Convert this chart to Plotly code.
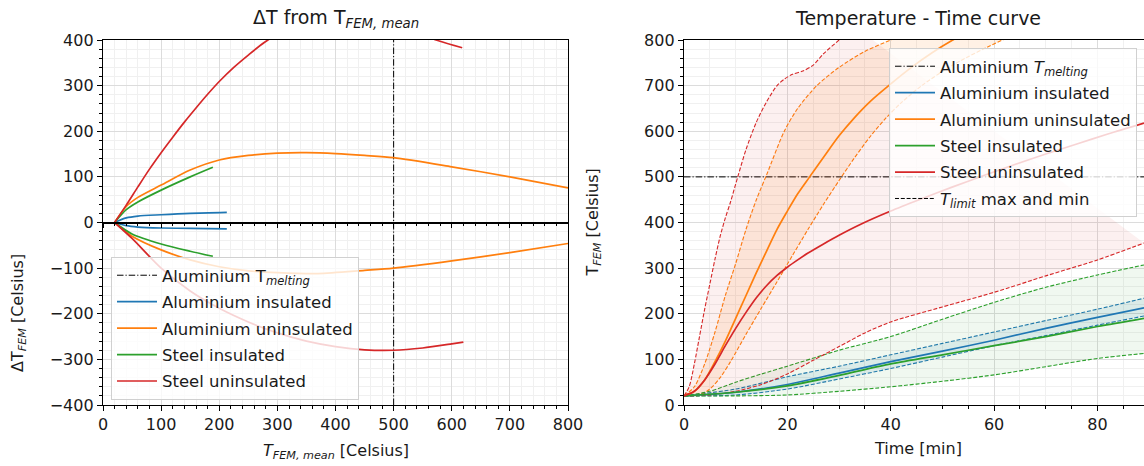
import plotly.graph_objects as go

# ---------------- data ----------------
ALU_MELT = 500  # aluminium melting temperature [Celsius]

# Left panel: deviation from mean FEM temperature (upper / lower envelope)
alu_ins_T_up = [20, 40, 60, 100, 150, 213]
alu_ins_dT_up = [0, 10, 14, 17, 20, 22]
alu_ins_T_lo = [20, 40, 60, 100, 150, 213]
alu_ins_dT_lo = [0, -7, -10, -12, -13, -14]

alu_unins_T_up = [20, 40, 60, 100, 150, 200, 250, 300, 350, 400, 450, 500, 600, 700, 800]
alu_unins_dT_up = [0, 35, 55, 82, 115, 137, 147, 152, 153, 151, 147, 142, 122, 100, 76]
alu_unins_T_lo = [20, 50, 100, 150, 200, 250, 300, 370, 450, 500, 600, 700, 800]
alu_unins_dT_lo = [0, -30, -60, -82, -97, -106, -110, -112, -105, -100, -84, -66, -46]

st_ins_T_up = [20, 40, 60, 100, 150, 189]
st_ins_dT_up = [0, 28, 45, 71, 100, 121]
st_ins_T_lo = [20, 50, 100, 150, 189]
st_ins_dT_lo = [0, -25, -47, -63, -74]

st_unins_T_up = [20, 40, 60, 80, 100, 120, 140, 160, 180, 200, 225, 250, 278, 310, 350, 400,
                 450, 500, 540, 573, 618]
st_unins_dT_up = [0, 38, 78, 117, 153, 187, 220, 251, 281, 309, 340, 367, 395, 420, 440, 452,
                  450, 437, 418, 400, 383]
st_unins_T_lo = [20, 50, 100, 150, 200, 250, 300, 350, 400, 450, 500, 550, 600, 620]
st_unins_dT_lo = [0, -35, -100, -150, -188, -218, -242, -260, -272, -279, -280, -275, -266, -262]

# Right panel: temperature-time curves, time [min], temperature [Celsius]
alu_ins_t = [0, 10, 20, 30, 40, 50, 60, 70, 80, 89]
alu_ins_T = [20, 28, 45, 70, 95, 118, 142, 168, 192, 213]
alu_ins_max = [20, 35, 62, 85, 110, 135, 160, 185, 210, 234]
alu_ins_min = [20, 22, 35, 57, 80, 105, 130, 152, 175, 195]

alu_unins_t = [0, 2, 4, 6, 8, 10, 12, 14, 16, 18, 20, 22, 24.3, 27, 30, 33, 36, 39.6, 44, 48, 52, 58]
alu_unins_T = [20, 30, 55, 95, 140, 190, 240, 290, 338, 385, 425, 463, 500, 543, 590, 630, 665,
               700, 740, 772, 800, 835]
alu_unins_max_t = [0, 2, 4, 6, 8, 10, 12, 14, 16, 19.4, 22, 25.7, 30, 35, 40, 45]
alu_unins_max = [20, 40, 90, 160, 240, 310, 385, 450, 505, 600, 650, 700, 740, 775, 800, 825]
alu_unins_min_t = [0, 3, 5, 7, 9, 12, 15, 18, 21, 24, 27, 30, 33, 36, 39, 42, 46, 52, 61.6, 70]
alu_unins_min = [20, 22, 35, 60, 95, 155, 213, 270, 328, 385, 440, 492, 542, 588, 628, 662,
                 700, 745, 800, 838]

st_ins_t = [0, 10, 20, 30, 40, 50, 60, 70, 80, 89]
st_ins_T = [20, 28, 42, 65, 90, 110, 130, 150, 172, 190]
st_ins_max_t = [0, 5, 10, 15, 20, 30, 40, 50, 60, 70, 80, 89]
st_ins_max = [20, 30, 50, 68, 85, 120, 150, 188, 225, 258, 285, 307]
st_ins_min_t = [0, 10, 20, 30, 40, 50, 60, 70, 80, 89]
st_ins_min = [20, 20, 22, 30, 40, 52, 66, 84, 102, 113]

st_unins_t = [0, 2, 4, 6, 8, 10, 12, 14, 16, 18, 20, 22, 24, 27, 30, 34, 40, 46, 52, 58, 64,
              70, 76, 82, 89]
st_unins_T = [20, 30, 55, 90, 130, 168, 203, 235, 262, 284, 302, 318, 333, 353, 372, 395, 425,
              452, 478, 503, 527, 550, 572, 594, 618]
st_unins_max_t = [0, 1, 2, 3, 4, 5, 6, 7, 8, 9, 10.4, 12, 14, 16, 18, 19.5, 21, 23, 25, 27, 30, 33]
st_unins_max = [20, 40, 90, 150, 210, 265, 320, 370, 410, 445, 500, 560, 620, 665, 700, 715, 725,
                732, 745, 770, 800, 830]
st_unins_min_t = [0, 5, 10, 15, 20, 25, 30, 35, 40, 50, 60, 70, 80, 89]
st_unins_min = [20, 22, 30, 45, 68, 98, 128, 158, 182, 215, 247, 283, 318, 355]

# ---------------- styling ----------------
C_BLUE, C_ORANGE, C_GREEN, C_RED = "#1f77b4", "#ff7f0e", "#2ca02c", "#d62728"
FILL = {
    C_BLUE: "rgba(31,119,180,0.10)",
    C_ORANGE: "rgba(255,127,14,0.11)",
    C_GREEN: "rgba(44,160,44,0.07)",
    C_RED: "rgba(214,39,40,0.07)",
}
TXT = "#1a1a1a"
FONT = "DejaVu Sans"
DASH = "4px,1.8px"
DASHDOT = "6.5px,2px,1.2px,2px"
LW = 1.7

W, H = 1144, 466
LX0, LX1 = 103 / W, 568 / W
RX0, RX1 = 684 / W, 1.0
Y0, Y1 = 1 - 405 / H, 1 - 40 / H

fig = go.Figure()

# ---- left panel ----
left_series = [
    ("Aluminium insulated", C_BLUE, alu_ins_T_up, alu_ins_dT_up, alu_ins_T_lo, alu_ins_dT_lo),
    ("Aluminium uninsulated", C_ORANGE, alu_unins_T_up, alu_unins_dT_up, alu_unins_T_lo, alu_unins_dT_lo),
    ("Steel insulated", C_GREEN, st_ins_T_up, st_ins_dT_up, st_ins_T_lo, st_ins_dT_lo),
    ("Steel uninsulated", C_RED, st_unins_T_up, st_unins_dT_up, st_unins_T_lo, st_unins_dT_lo),
]

fig.add_trace(go.Scatter(
    x=[ALU_MELT, ALU_MELT], y=[-400, 400], mode="lines",
    line=dict(color="black", width=1, dash=DASHDOT),
    name="Aluminium T<sub><i>melting</i></sub>", legend="legend", legendrank=1, legendgroup="L0",
    xaxis="x", yaxis="y", hoverinfo="skip"))

for i, (name, col, xu, yu, xl, yl) in enumerate(left_series):
    grp = f"L{i + 1}"
    fig.add_trace(go.Scatter(x=xu, y=yu, mode="lines",
                             line=dict(color=col, width=LW, shape="spline", smoothing=0.8),
                             name=name, legend="legend", legendrank=2 + i, legendgroup=grp,
                             xaxis="x", yaxis="y"))
    fig.add_trace(go.Scatter(x=xl, y=yl, mode="lines",
                             line=dict(color=col, width=LW, shape="spline", smoothing=0.8),
                             name=name, showlegend=False, legendgroup=grp, xaxis="x", yaxis="y"))

# invisible trace carrying the zero-level axis
fig.add_trace(go.Scatter(x=[0], y=[0], mode="markers", marker=dict(opacity=0),
                         showlegend=False, hoverinfo="skip", xaxis="x3", yaxis="y"))

# ---- right panel ----
fig.add_trace(go.Scatter(
    x=[0, 100], y=[ALU_MELT, ALU_MELT], mode="lines",
    line=dict(color="black", width=1, dash=DASHDOT),
    name="Aluminium <i>T<sub>melting</sub></i>", legend="legend2", legendrank=1, legendgroup="R0",
    xaxis="x2", yaxis="y2", hoverinfo="skip"))

right_series = [
    ("Aluminium insulated", C_BLUE, alu_ins_t, alu_ins_T, alu_ins_t, alu_ins_max, alu_ins_t, alu_ins_min),
    ("Aluminium uninsulated", C_ORANGE, alu_unins_t, alu_unins_T, alu_unins_max_t, alu_unins_max,
     alu_unins_min_t, alu_unins_min),
    ("Steel insulated", C_GREEN, st_ins_t, st_ins_T, st_ins_max_t, st_ins_max, st_ins_min_t, st_ins_min),
    ("Steel uninsulated", C_RED, st_unins_t, st_unins_T, st_unins_max_t, st_unins_max,
     st_unins_min_t, st_unins_min),
]

# shaded bands between the limit curves
for name, col, t, T, tmax, Tmax, tmin, Tmin in right_series:
    fig.add_trace(go.Scatter(x=tmin, y=Tmin, mode="lines",
                             line=dict(color=col, width=1.1, dash=DASH, shape="spline", smoothing=0.8),
                             showlegend=False, xaxis="x2", yaxis="y2", hoverinfo="skip"))
    fig.add_trace(go.Scatter(x=tmax, y=Tmax, mode="lines",
                             line=dict(color=col, width=1.1, dash=DASH, shape="spline", smoothing=0.8),
                             fill="tonexty", fillcolor=FILL[col],
                             showlegend=False, xaxis="x2", yaxis="y2", hoverinfo="skip"))

for i, (name, col, t, T, *_rest) in enumerate(right_series):
    fig.add_trace(go.Scatter(x=t, y=T, mode="lines",
                             line=dict(color=col, width=LW, shape="spline", smoothing=0.8),
                             name=name, legend="legend2", legendrank=2 + i, legendgroup=f"R{i + 1}",
                             xaxis="x2", yaxis="y2"))

fig.add_trace(go.Scatter(x=[None], y=[None], mode="lines", line=dict(color="black", width=1, dash=DASH),
                         name="<i>T<sub>limit</sub></i> max and min", legend="legend2", legendrank=10,
                         legendgroup="R9", xaxis="x2", yaxis="y2"))

# ---------------- axes ----------------
MINOR_GRID = "#f0f0f0"


def axis_style(**kw):
    d = dict(
        showline=True, linecolor="black", linewidth=1.3, automargin=False,
        ticks="outside", ticklen=5, tickwidth=1, tickcolor="black",
        tickfont=dict(family=FONT, size=16, color=TXT),
        showgrid=True, gridcolor="#dcdcdc", gridwidth=1, zeroline=False,
    )
    d.update(kw)
    return d


def minor(step, grid=True):
    return dict(dtick=step, tick0=0, ticks="outside", ticklen=3, tickcolor="black",
                showgrid=grid, gridcolor=MINOR_GRID)


legend_style = dict(xanchor="left", yanchor="top", bgcolor="rgba(255,255,255,0.8)",
                    bordercolor="#d0d0d0", borderwidth=1, traceorder="grouped",
                    font=dict(family=FONT, size=16.5, color=TXT), tracegroupgap=2, itemwidth=40)

fig.update_layout(
    width=W, height=H,
    margin=dict(l=0, r=0, t=0, b=0, autoexpand=False),
    paper_bgcolor="white", plot_bgcolor="white",
    font=dict(family=FONT, color=TXT, size=16),
    showlegend=True,
    xaxis=axis_style(domain=[LX0, LX1], range=[0, 800], dtick=100, tick0=0, anchor="y", mirror=True,
                     minor=minor(20)),
    yaxis=axis_style(domain=[Y0, Y1], range=[-400, 400], dtick=100, tick0=0, anchor="x", mirror=True,
                     minor=minor(20)),
    xaxis3=dict(overlaying="x", anchor="free", position=(Y0 + Y1) / 2, range=[0, 800], automargin=False,
                showline=True, linecolor="black", linewidth=1.8, showgrid=False, zeroline=False,
                showticklabels=False, ticks="outside", ticklen=5, tickcolor="black", dtick=100, tick0=0,
                minor=minor(20, grid=False)),
    xaxis2=axis_style(domain=[RX0, RX1], range=[0, 89], dtick=20, tick0=0, anchor="y2", mirror=True,
                      minor=minor(5)),
    yaxis2=axis_style(domain=[Y0, Y1], range=[0, 800], dtick=100, tick0=0, anchor="x2", mirror=False,
                      minor=minor(20)),
    legend=dict(x=111 / W, y=1 - 257 / H, **legend_style),
    legend2=dict(x=889 / W, y=1 - 48 / H, **legend_style),
)

annotations = [
    dict(text="ΔT from T<sub><i>FEM, mean</i></sub>", x=(LX0 + LX1) / 2, y=1 - 18 / H,
         font=dict(family=FONT, size=19, color=TXT)),
    dict(text="Temperature - Time curve", x=918 / W, y=1 - 18 / H,
         font=dict(family=FONT, size=19, color=TXT)),
    dict(text="<i>T<sub>FEM, mean</sub></i> [Celsius]", x=(LX0 + LX1) / 2, y=1 - 451 / H,
         font=dict(family=FONT, size=16, color=TXT)),
    dict(text="Time [min]", x=918 / W, y=1 - 448 / H,
         font=dict(family=FONT, size=16, color=TXT)),
    dict(text="ΔT<sub><i>FEM</i></sub> [Celsius]", x=18 / W, y=1 - 313 / H, textangle=-90,
         font=dict(family=FONT, size=16, color=TXT)),
    dict(text="T<sub><i>FEM</i></sub> [Celsius]", x=593 / W, y=(Y0 + Y1) / 2, textangle=-90,
         font=dict(family=FONT, size=16, color=TXT)),
]
for a in annotations:
    a.update(xref="paper", yref="paper", showarrow=False, xanchor="center", yanchor="middle")
fig.update_layout(annotations=annotations)

fig.write_html("out.html")
